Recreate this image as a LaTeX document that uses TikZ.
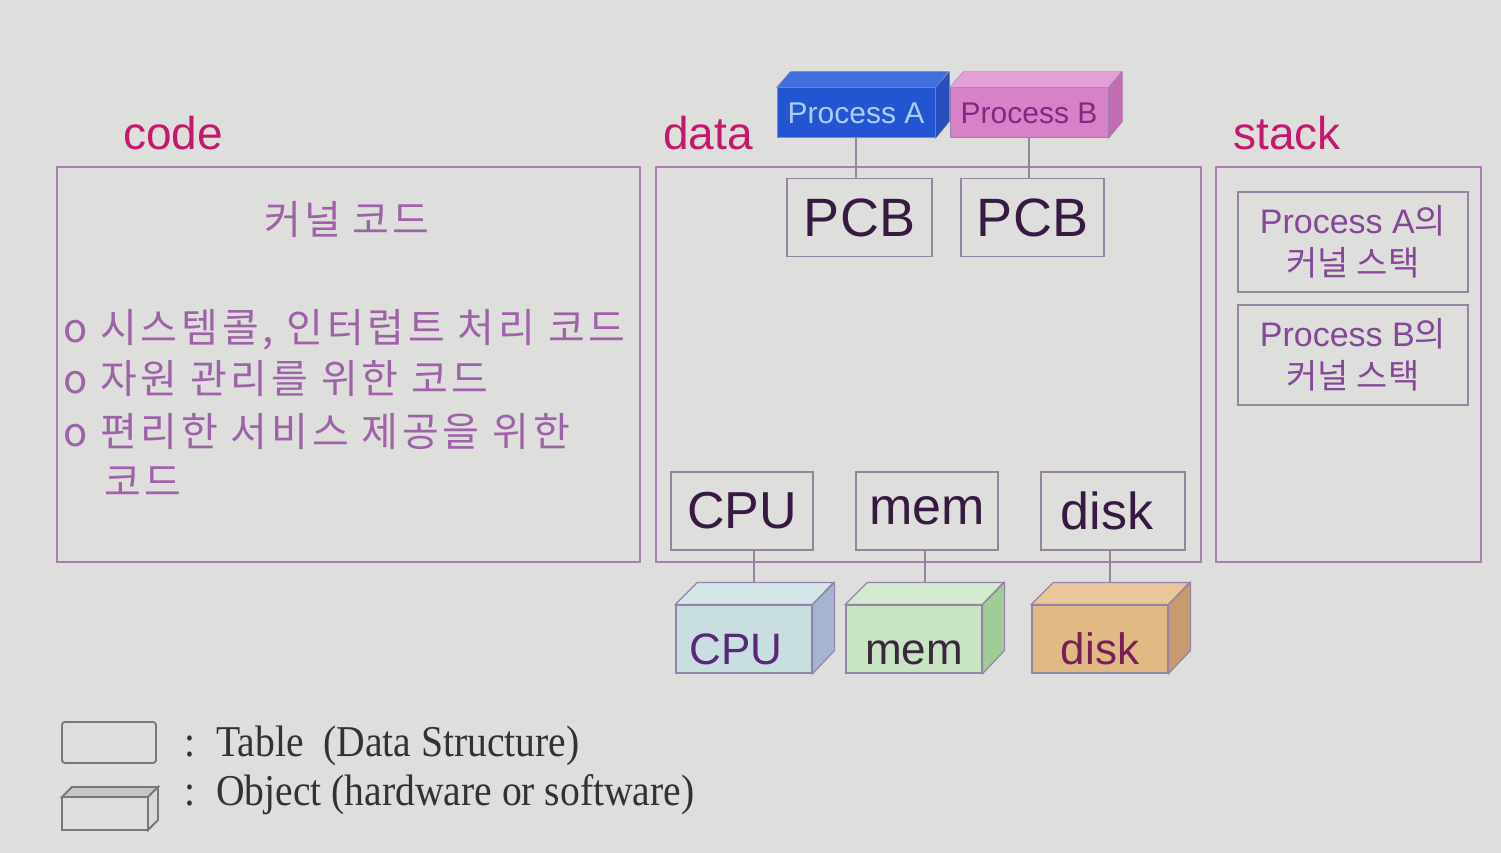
\documentclass[tikz,border=0pt]{standalone}
\usepackage{fontspec}
\setmainfont{Liberation Sans}
\newfontfamily\kr{Noto Sans CJK KR}
\newfontfamily\krwide{Noto Sans CJK KR}[LetterSpace=7.5]
\newfontfamily\krwider{Noto Sans CJK KR}[LetterSpace=9.5]
\newfontfamily\legendfont{Liberation Serif}[FakeStretch=0.9]
\usepackage{tikz}
\usetikzlibrary{calc}

\definecolor{bg}{RGB}{222,222,220}
\definecolor{seglabel}{RGB}{196,24,110}
\definecolor{segline}{RGB}{172,125,178}
\definecolor{codetxt}{RGB}{158,98,168}
\definecolor{tblline}{RGB}{150,132,158}
\definecolor{tbltxt}{RGB}{55,25,65}
\definecolor{stacktxt}{RGB}{132,72,150}
\definecolor{objline}{RGB}{150,130,170}
\definecolor{pafront}{RGB}{35,85,210}
\definecolor{patop}{RGB}{65,112,222}
\definecolor{paside}{RGB}{40,78,188}
\definecolor{patxt}{RGB}{172,206,255}
\definecolor{pbfront}{RGB}{215,130,200}
\definecolor{pbtop}{RGB}{226,160,214}
\definecolor{pbside}{RGB}{194,108,180}
\definecolor{pbtxt}{RGB}{130,40,130}
\definecolor{cpufront}{RGB}{200,222,225}
\definecolor{cputop}{RGB}{212,230,232}
\definecolor{cpuside}{RGB}{165,180,208}
\definecolor{cputxt}{RGB}{90,40,120}
\definecolor{memfront}{RGB}{200,228,195}
\definecolor{memtop}{RGB}{212,234,206}
\definecolor{memside}{RGB}{160,205,150}
\definecolor{memtxt}{RGB}{60,40,60}
\definecolor{diskfront}{RGB}{225,185,130}
\definecolor{disktop}{RGB}{233,199,152}
\definecolor{diskside}{RGB}{200,155,110}
\definecolor{disktxt}{RGB}{120,30,90}
\definecolor{legline}{RGB}{120,120,120}
\definecolor{legtxt}{RGB}{50,50,50}

\begin{document}
\begin{tikzpicture}[x=1pt,y=-1pt]
\tikzstyle{seg}=[draw=segline,line width=1.8pt]
\tikzstyle{lab}=[anchor=base west,inner sep=0,text=seglabel,font=\fontsize{46}{50}\selectfont]
\tikzstyle{tbl}=[draw=tblline,line width=1.8pt,inner sep=0,minimum height=78pt,text=tbltxt]
\tikzstyle{obj}=[draw=objline,line width=1.2pt,inner sep=0,minimum width=136pt,minimum height=68pt,font=\fontsize{44}{48}\selectfont]
\tikzstyle{proc}=[draw=objline,line width=1pt,inner sep=0,minimum width=158pt,minimum height=50pt,font=\fontsize{30}{34}\selectfont]
\tikzstyle{codeln}=[anchor=base west,inner sep=0,text=codetxt,font=\krwider\fontsize{40}{51}\selectfont]
\tikzstyle{leg}=[anchor=base west,inner sep=0,text=legtxt,font=\legendfont\fontsize{44}{48}\selectfont]

\fill[bg] (0,0) rectangle (1501,853);
\useasboundingbox (0,0) rectangle (1501,853);

% segments
\node[lab] (codelab) at (123,150) {code};
\node[lab] (datalab) at (663,150) {data};
\node[lab] (stacklab) at (1233,150) {stack};
\draw[seg] (57,167) rectangle (640,562);
\draw[seg] (656,167) rectangle (1201,562);
\draw[seg] (1216,167) rectangle (1481,562);

% code
\node[text=codetxt,font=\krwide\fontsize{40}{48}\selectfont] (kcode) at (347,220) {커널 코드};
\node[codeln] (cl1) at (63,342) {o 시스템콜, 인터럽트 처리 코드};
\node[codeln] (cl2) at (63,393) {o 자원 관리를 위한 코드};
\node[codeln] (cl3) at (63,446) {o 편리한 서비스 제공을 위한};
\node[codeln] (cl4) at (104,496) {코드};

% processes
\node[proc,fill=pafront,text=patxt] (pa) at (856,113) {Process A};
\filldraw[draw=objline,fill=patop] (pa.north west) -- ++(14,-16) -- ++(158,0) -- (pa.north east) -- cycle;
\filldraw[draw=objline,fill=paside] (pa.north east) -- ++(14,-16) -- ++(0,50) -- (pa.south east) -- cycle;
\node[proc,fill=pbfront,text=pbtxt] (pb) at (1029,113) {Process B};
\filldraw[draw=objline,fill=pbtop] (pb.north west) -- ++(14,-16) -- ++(158,0) -- (pb.north east) -- cycle;
\filldraw[draw=objline,fill=pbside] (pb.north east) -- ++(14,-16) -- ++(0,50) -- (pb.south east) -- cycle;

\node[tbl,minimum width=145pt,font=\fontsize{54}{58}\selectfont] (pcba) at (859.5,217.5) {PCB};
\node[tbl,minimum width=143pt,font=\fontsize{54}{58}\selectfont] (pcbb) at (1032.5,217.5) {PCB};
\draw[tblline,line width=1.4pt] (pa.south) -- (pa.south |- pcba.north);
\draw[tblline,line width=1.4pt] (pb.south) -- (pb.south |- pcbb.north);

% hardware tables
\node[tbl,minimum width=142pt,font=\fontsize{52}{56}\selectfont] (cputbl) at (742,511) {CPU};
\node[tbl,minimum width=142pt,font=\fontsize{52}{56}\selectfont] (memtbl) at (927,511) {mem};
\node[tbl,minimum width=144pt,font=\fontsize{52}{56}\selectfont] (disktbl) at (1113,511) {\hspace*{-12pt}disk};

% hardware objects
\node[obj,fill=cpufront,text=cputxt] (cpuobj) at (744,639) {\hspace*{-16pt}\raisebox{-25pt}[0pt][0pt]{CPU}};
\filldraw[draw=objline,line width=1.2pt,fill=cputop] (cpuobj.north west) -- ++(22,-22) -- ++(136,0) -- (cpuobj.north east) -- cycle;
\filldraw[draw=objline,line width=1.2pt,fill=cpuside] (cpuobj.north east) -- ++(22,-22) -- ++(0,68) -- (cpuobj.south east) -- cycle;
\node[obj,fill=memfront,text=memtxt] (memobj) at (914,639) {\raisebox{-25pt}[0pt][0pt]{mem}};
\filldraw[draw=objline,line width=1.2pt,fill=memtop] (memobj.north west) -- ++(22,-22) -- ++(136,0) -- (memobj.north east) -- cycle;
\filldraw[draw=objline,line width=1.2pt,fill=memside] (memobj.north east) -- ++(22,-22) -- ++(0,68) -- (memobj.south east) -- cycle;
\node[obj,fill=diskfront,text=disktxt] (diskobj) at (1100,639) {\raisebox{-25pt}[0pt][0pt]{disk}};
\filldraw[draw=objline,line width=1.2pt,fill=disktop] (diskobj.north west) -- ++(22,-22) -- ++(136,0) -- (diskobj.north east) -- cycle;
\filldraw[draw=objline,line width=1.2pt,fill=diskside] (diskobj.north east) -- ++(22,-22) -- ++(0,68) -- (diskobj.south east) -- cycle;

\coordinate (cputop) at ($(cpuobj.north)+(10,-22)$);
\coordinate (memtop) at ($(memobj.north)+(11,-22)$);
\coordinate (disktop) at ($(diskobj.north)+(10,-22)$);
\draw[tblline,line width=1.4pt] (cputbl.south -| cputop) -- (cputop);
\draw[tblline,line width=1.4pt] (memtbl.south -| memtop) -- (memtop);
\draw[tblline,line width=1.4pt] (disktbl.south -| disktop) -- (disktop);

% stack
\node[tbl,minimum width=230pt,minimum height=100pt,text=stacktxt,align=center,font=\fontsize{34}{42}\selectfont] (stka) at (1353,242) {Process A{\kr 의}\\{\kr 커널 스택}};
\node[tbl,minimum width=230pt,minimum height=100pt,text=stacktxt,align=center,font=\fontsize{34}{42}\selectfont] (stkb) at (1353,355) {Process B{\kr 의}\\{\kr 커널 스택}};

% legend
\draw[legline,line width=1.8pt,rounded corners=3pt] (62,722) rectangle (156,763);
\filldraw[draw=legline,line width=1.8pt,fill=bg] (62,797) rectangle (148,830);
\filldraw[draw=legline,line width=1.8pt,fill=gray!45] (62,797) -- ++(10,-10) -- ++(86,0) -- (148,797) -- cycle;
\filldraw[draw=legline,line width=1.8pt,fill=gray!30] (148,797) -- ++(10,-10) -- ++(0,33) -- (148,830) -- cycle;
\node[leg] (legc1) at (184,756) {:};
\node[leg] (legt) at (216,756) {Table\ \ (Data Structure)};
\node[leg] (legc2) at (184,805) {:};
\node[leg] (lego) at (216,805) {Object (hardware or software)};
\end{tikzpicture}
\end{document}
